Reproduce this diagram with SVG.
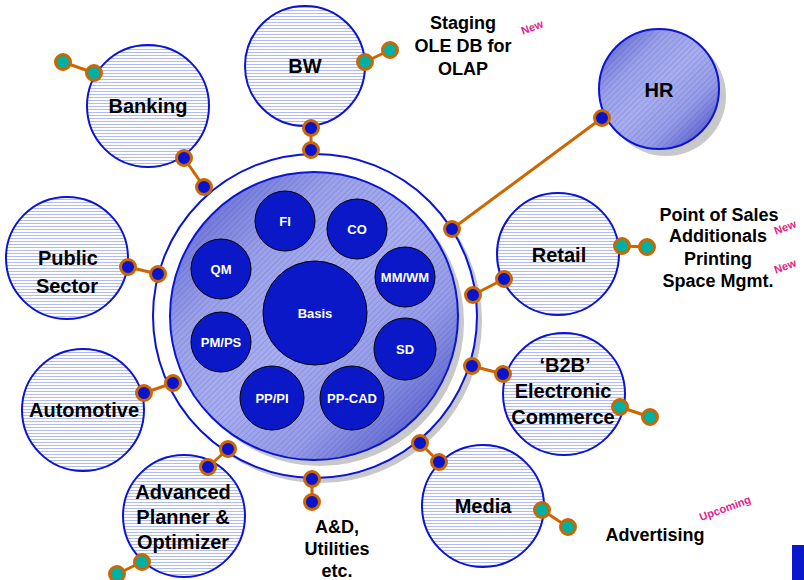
<svg xmlns="http://www.w3.org/2000/svg" width="804" height="580" viewBox="0 0 804 580">
<defs>
<pattern id="stripes" patternUnits="userSpaceOnUse" width="6" height="3">
<rect width="6" height="3" fill="#ffffff"/>
<rect y="1" width="6" height="1" fill="#B2BAF4"/>
</pattern>
<linearGradient id="grad" x1="0" y1="0" x2="1" y2="1">
<stop offset="0" stop-color="#4E56CC"/>
<stop offset="0.3" stop-color="#9CA2E8"/>
<stop offset="0.5" stop-color="#A8AEEE"/>
<stop offset="0.7" stop-color="#969CE6"/>
<stop offset="1" stop-color="#3A42C0"/>
</linearGradient>
<pattern id="hatch" patternUnits="userSpaceOnUse" width="4" height="4" patternTransform="rotate(-45)">
<rect width="4" height="1" fill="#3038B0" fill-opacity="0.18"/>
</pattern>
<style>
.node{fill:url(#stripes);stroke:#0A14D2;stroke-width:2}
.lbl{font-family:"Liberation Sans",Arial,sans-serif;font-weight:bold;font-size:20px;fill:#000;text-anchor:middle}
.side{font-family:"Liberation Sans",Arial,sans-serif;font-weight:bold;font-size:18px;fill:#000;text-anchor:middle}
.mod{fill:#0A18C8;stroke:#000;stroke-width:1}
.mlbl{font-family:"Liberation Sans",Arial,sans-serif;font-weight:bold;font-size:13px;fill:#fff;text-anchor:middle}
.new{font-family:"Liberation Sans",Arial,sans-serif;font-weight:bold;font-size:11px;fill:#E8208A}
.shadow{fill:#C8C8C8}
.line{stroke:#CC6600;stroke-width:3;fill:none}
.db{fill:#0A14CC;stroke:#CC6600;stroke-width:3}
.dt{fill:#00B0A0;stroke:#CC6600;stroke-width:3}
</style>
</defs>
<rect width="804" height="580" fill="#ffffff"/>

<g id="ring">
<circle class="shadow" cx="320" cy="321" r="162"/>
<circle cx="315" cy="316" r="162" fill="#ffffff" stroke="#0A14D2" stroke-width="2"/>
</g>

<g id="core">
<circle class="shadow" cx="320" cy="322" r="144"/>
<circle cx="314" cy="316" r="144" fill="url(#grad)"/>
<circle cx="314" cy="316" r="144" fill="url(#hatch)" stroke="#0A14D2" stroke-width="2"/>
</g>

<g id="mod-fi"><circle class="mod" cx="285" cy="221" r="30"/><text class="mlbl" x="285" y="226">FI</text></g>
<g id="mod-co"><circle class="mod" cx="357" cy="229" r="30"/><text class="mlbl" x="357" y="234">CO</text></g>
<g id="mod-mmwm"><circle class="mod" cx="405" cy="277" r="30"/><text class="mlbl" x="405" y="282">MM/WM</text></g>
<g id="mod-sd"><circle class="mod" cx="405" cy="349" r="31"/><text class="mlbl" x="405" y="354">SD</text></g>
<g id="mod-ppcad"><circle class="mod" cx="352" cy="398" r="32"/><text class="mlbl" x="352" y="403">PP-CAD</text></g>
<g id="mod-pppi"><circle class="mod" cx="272" cy="398" r="32"/><text class="mlbl" x="272" y="403">PP/PI</text></g>
<g id="mod-pmps"><circle class="mod" cx="221" cy="342" r="30"/><text class="mlbl" x="221" y="347">PM/PS</text></g>
<g id="mod-qm"><circle class="mod" cx="221" cy="269" r="30"/><text class="mlbl" x="221" y="274">QM</text></g>
<g id="mod-basis"><circle class="mod" cx="315" cy="313" r="52"/><text class="mlbl" x="315" y="318">Basis</text></g>

<g id="banking"><circle class="node" cx="148" cy="106" r="61"/><text class="lbl" x="148" y="113">Banking</text></g>
<g id="bw"><circle class="node" cx="305" cy="66" r="60"/><text class="lbl" x="305" y="73">BW</text></g>
<g id="hr">
<circle class="shadow" cx="666" cy="96" r="60"/>
<circle cx="659" cy="89" r="60" fill="url(#grad)"/>
<circle cx="659" cy="89" r="60" fill="url(#hatch)" stroke="#0A14D2" stroke-width="2"/>
<text class="lbl" x="659" y="97">HR</text>
</g>
<g id="retail"><circle class="node" cx="558" cy="254" r="61"/><text class="lbl" x="559" y="262">Retail</text></g>
<g id="b2b"><circle class="node" cx="564" cy="394" r="61"/>
<text class="lbl" x="565" y="372">‘B2B’</text>
<text class="lbl" x="563" y="398">Electronic</text>
<text class="lbl" x="563" y="424">Commerce</text></g>
<g id="media"><circle class="node" cx="483" cy="506" r="61"/><text class="lbl" x="483" y="513">Media</text></g>
<g id="apo"><circle class="node" cx="184" cy="516" r="61"/>
<text class="lbl" x="183" y="499">Advanced</text>
<text class="lbl" x="183" y="524">Planner &amp;</text>
<text class="lbl" x="183" y="549">Optimizer</text></g>
<g id="automotive"><circle class="node" cx="83" cy="410" r="61"/><text class="lbl" x="84" y="417">Automotive</text></g>
<g id="public"><circle class="node" cx="67" cy="258" r="61"/>
<text class="lbl" x="68" y="265">Public</text>
<text class="lbl" x="67" y="293">Sector</text></g>

<g id="connectors">
<line class="line" x1="184" y1="158" x2="204" y2="187"/>
<line class="line" x1="63" y1="62" x2="94" y2="73"/>
<line class="line" x1="311" y1="128" x2="311" y2="150"/>
<line class="line" x1="365" y1="62" x2="390" y2="50"/>
<line class="line" x1="452" y1="229" x2="602" y2="118"/>
<line class="line" x1="473" y1="295" x2="504" y2="279"/>
<line class="line" x1="622" y1="246" x2="647" y2="247"/>
<line class="line" x1="472" y1="366" x2="503" y2="374"/>
<line class="line" x1="620" y1="407" x2="650" y2="417"/>
<line class="line" x1="420" y1="443" x2="439" y2="462"/>
<line class="line" x1="542" y1="510" x2="568" y2="527"/>
<line class="line" x1="312" y1="479" x2="312" y2="502"/>
<line class="line" x1="228" y1="449" x2="208" y2="467"/>
<line class="line" x1="142" y1="562" x2="117" y2="574"/>
<line class="line" x1="144" y1="393" x2="173" y2="383"/>
<line class="line" x1="128" y1="267" x2="158" y2="274"/>

<circle class="db" cx="184" cy="158" r="7.5"/><circle class="db" cx="204" cy="187" r="7.5"/>
<circle class="dt" cx="63" cy="62" r="7.5"/><circle class="dt" cx="94" cy="73" r="7.5"/>
<circle class="db" cx="311" cy="128" r="7.5"/><circle class="db" cx="311" cy="150" r="7.5"/>
<circle class="dt" cx="365" cy="62" r="7.5"/><circle class="dt" cx="390" cy="50" r="7.5"/>
<circle class="db" cx="452" cy="229" r="7.5"/><circle class="db" cx="602" cy="118" r="7.5"/>
<circle class="db" cx="473" cy="295" r="7.5"/><circle class="db" cx="504" cy="279" r="7.5"/>
<circle class="dt" cx="622" cy="246" r="7.5"/><circle class="dt" cx="647" cy="247" r="7.5"/>
<circle class="db" cx="472" cy="366" r="7.5"/><circle class="db" cx="503" cy="374" r="7.5"/>
<circle class="dt" cx="620" cy="407" r="7.5"/><circle class="dt" cx="650" cy="417" r="7.5"/>
<circle class="db" cx="420" cy="443" r="7.5"/><circle class="db" cx="439" cy="462" r="7.5"/>
<circle class="dt" cx="542" cy="510" r="7.5"/><circle class="dt" cx="568" cy="527" r="7.5"/>
<circle class="db" cx="312" cy="479" r="7.5"/><circle class="db" cx="312" cy="502" r="7.5"/>
<circle class="db" cx="228" cy="449" r="7.5"/><circle class="db" cx="208" cy="467" r="7.5"/>
<circle class="dt" cx="142" cy="562" r="7.5"/><circle class="dt" cx="117" cy="574" r="7.5"/>
<circle class="db" cx="144" cy="393" r="7.5"/><circle class="db" cx="173" cy="383" r="7.5"/>
<circle class="db" cx="128" cy="267" r="7.5"/><circle class="db" cx="158" cy="274" r="7.5"/>
</g>

<g id="labels">
<text class="side" x="463" y="29">Staging</text>
<text class="side" x="463" y="52">OLE DB for</text>
<text class="side" x="463" y="75">OLAP</text>
<text class="new" x="532" y="31" text-anchor="middle" transform="rotate(-20 532 27)">New</text>

<text class="side" x="719" y="221">Point of Sales</text>
<text class="side" x="718" y="242">Additionals</text>
<text class="side" x="718" y="265">Printing</text>
<text class="side" x="718" y="287">Space Mgmt.</text>
<text class="new" x="785" y="231" text-anchor="middle" transform="rotate(-20 785 227)">New</text>
<text class="new" x="785" y="270" text-anchor="middle" transform="rotate(-20 785 266)">New</text>

<text class="side" x="655" y="541">Advertising</text>
<text class="new" x="725" y="512" text-anchor="middle" transform="rotate(-20 725 508)">Upcoming</text>

<text class="side" x="337" y="533">A&amp;D,</text>
<text class="side" x="337" y="555">Utilities</text>
<text class="side" x="337" y="577">etc.</text>
</g>

<rect x="792" y="545" width="12" height="35" fill="#0A18CC"/>
</svg>
